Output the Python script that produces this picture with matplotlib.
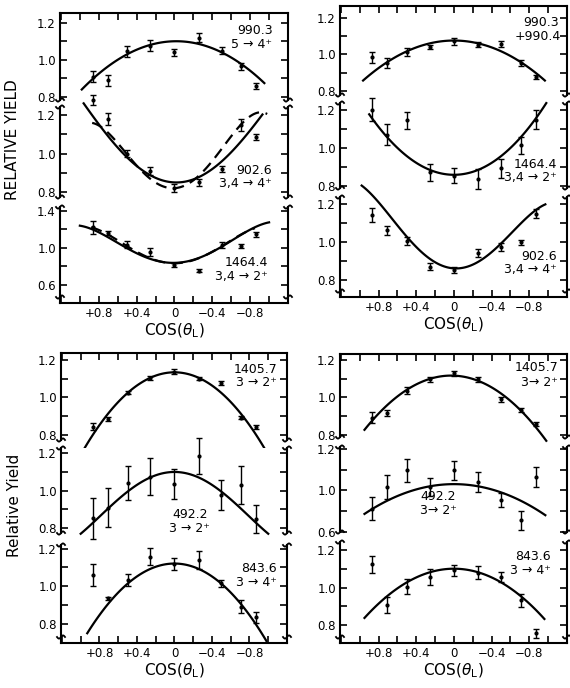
import matplotlib.pyplot as plt
import numpy as np
from matplotlib.lines import Line2D
from numpy.polynomial import polynomial as P

W, H = 570, 688

# detector angles 30..150 deg, as cos(theta_L)
COS_THETA = [0.866, 0.707, 0.5, 0.259, 0.0, -0.259, -0.5, -0.707, -0.866]

# ---- top left: 990.3 / 902.6 / 1464.4 ----
TL1_Y = [0.91, 0.89, 1.045, 1.075, 1.04, 1.12, 1.05, 0.965, 0.86]
TL1_ERR = [0.03, 0.03, 0.03, 0.03, 0.02, 0.025, 0.02, 0.02, 0.015]
TL1_FIT = [1.10, -0.01, -0.26]
TL1_SPAN = (0.98, -0.95)

TL2_Y = [1.28, 1.18, 1.0, 0.91, 0.82, 0.85, 0.92, 1.15, 1.085]
TL2_ERR = [0.025, 0.03, 0.02, 0.02, 0.02, 0.02, 0.015, 0.03, 0.015]
TL2_FIT = [0.85, 0.02, 0.50, 0.0, -0.08]
TL2_SPAN = (0.96, -0.93)
TL2_FIT_DASH = [0.82, -0.03, 0.9, 0.0, -0.55]
TL2_SPAN_DASH = (0.87, -0.98)

TL3_Y = [1.22, 1.157, 1.03, 0.953, 0.81, 0.75, 1.025, 1.014, 1.143]
TL3_ERR = [0.07, 0.02, 0.04, 0.04, 0.02, 0.02, 0.03, 0.02, 0.03]
TL3_FIT = [0.834, -0.018, 0.75, 0.0, -0.33]
TL3_SPAN = (1.0, -1.0)
TL3_FIT_DASH = [0.83, 0.0, 0.85, 0.0, -0.45]
TL3_SPAN_DASH = (0.88, -0.85)

# ---- top right: 990.3+990.4 / 1464.4 / 902.6 ----
TR1_Y = [0.985, 0.953, 1.013, 1.04, 1.072, 1.054, 1.058, 0.953, 0.877]
TR1_ERR = [0.03, 0.025, 0.02, 0.01, 0.02, 0.015, 0.015, 0.015, 0.012]
TR1_FIT = [1.076, 0.0, -0.235]
TR1_SPAN = (0.965, -0.965)

TR2_Y = [1.2, 1.07, 1.144, 0.873, 0.855, 0.838, 0.895, 1.014, 1.148]
TR2_ERR = [0.06, 0.055, 0.045, 0.045, 0.04, 0.05, 0.05, 0.045, 0.05]
TR2_FIT = [0.86, 0.0, 0.39]
TR2_SPAN = (0.9, -0.98)

TR3_Y = [1.14, 1.06, 1.005, 0.87, 0.852, 0.94, 0.974, 0.997, 1.148]
TR3_ERR = [0.035, 0.025, 0.02, 0.02, 0.015, 0.02, 0.02, 0.015, 0.025]
TR3_FIT = [0.861, 0.03, 0.659, 0.02, -0.268]
TR3_SPAN = (0.98, -0.97)

# ---- bottom left: 1405.7 / 492.2 / 843.6 ----
BL1_Y = [0.844, 0.883, 1.025, 1.101, 1.137, 1.10, 1.075, 0.892, 0.84]
BL1_ERR = [0.02, 0.01, 0.01, 0.01, 0.012, 0.01, 0.01, 0.01, 0.01]
BL1_FIT = [1.133, 0.0, -0.44]
BL1_SPAN = (0.98, -0.96)

BL2_Y = [0.852, 0.91, 1.04, 1.075, 1.036, 1.185, 0.977, 1.03, 0.85]
BL2_ERR = [0.11, 0.105, 0.09, 0.10, 0.08, 0.095, 0.08, 0.10, 0.075]
BL2_FIT = [1.10, 0.0, -0.45, 0.0, 0.12]
BL2_SPAN = (1.0, -1.0)

BL3_Y = [1.06, 0.934, 1.032, 1.156, 1.117, 1.139, 1.014, 0.89, 0.833]
BL3_ERR = [0.06, 0.01, 0.03, 0.045, 0.03, 0.05, 0.02, 0.035, 0.03]
BL3_FIT = [1.12, 0.0, -0.43]
BL3_SPAN = (0.93, -0.98)

# ---- bottom right: 1405.7 / 492.2 / 843.6 ----
BR1_Y = [0.893, 0.918, 1.036, 1.096, 1.128, 1.096, 0.99, 0.932, 0.861]
BR1_ERR = [0.03, 0.015, 0.02, 0.015, 0.015, 0.015, 0.015, 0.01, 0.01]
BR1_FIT = [1.116, 0.02, -0.34]
BR1_SPAN = (0.95, -0.98)

BR2_Y = [0.911, 1.016, 1.097, 1.016, 1.097, 1.04, 0.952, 0.855, 1.065]
BR2_ERR = [0.055, 0.06, 0.055, 0.045, 0.045, 0.05, 0.035, 0.045, 0.05]
BR2_FIT = [1.03, 0.0, -0.16]
BR2_SPAN = (0.95, -0.97)

BR3_Y = [1.123, 0.907, 1.004, 1.056, 1.092, 1.078, 1.056, 0.933, 0.757]
BR3_ERR = [0.045, 0.045, 0.04, 0.04, 0.03, 0.035, 0.025, 0.035, 0.025]
BR3_FIT = [1.10, 0.0, -0.29]
BR3_SPAN = (0.95, -0.96)

X_TICKS = [1.2, 1.0, 0.8, 0.6, 0.4, 0.2, 0.0, -0.2, -0.4, -0.6, -0.8, -1.0, -1.2]
X_LABELS = ['', '', '+0.8', '', '+0.4', '', '0', '', '\u22120.4', '', '\u22120.8', '', '']

plt.rcParams['font.family'] = 'DejaVu Sans'
fig = plt.figure(figsize=(W / 100, H / 100), dpi=100)
fig.patch.set_facecolor('white')

LW = 1.5


def squiggle(x, y):
    t = np.linspace(0, 2 * np.pi, 24)
    xs = x - 4 + 8 * t / (2 * np.pi)
    ys = y + 1.6 * np.sin(t)
    fig.add_artist(Line2D(xs / W, 1 - ys / H, transform=fig.transFigure,
                          color='k', lw=1.3))


def make_ax(left, right, top, bottom, ylim, pos):
    ax = fig.add_axes([left / W, 1 - bottom / H, (right - left) / W, (bottom - top) / H])
    ax.set_xlim(1.21, -1.18)
    ax.set_ylim(*ylim)
    for s in ax.spines.values():
        s.set_linewidth(LW)
    ax.spines['top'].set_visible(pos == 0)
    ax.spines['bottom'].set_visible(pos == 2)
    ax.set_xticks(X_TICKS)
    ax.set_xticklabels(X_LABELS)
    ax.tick_params(axis='both', which='both', direction='in', length=5, width=1.2,
                   labelsize=8.5, right=True, pad=3)
    ax.tick_params(axis='x', top=(pos == 0), bottom=(pos == 2), labelbottom=(pos == 2))
    return ax


def plot_set(ax, y, err, fit, span, fit_dash=None, span_dash=None):
    ax.errorbar(COS_THETA, y, yerr=err, fmt='o', ms=2.0, color='k', ecolor='k',
                elinewidth=1.0, capsize=2.0, capthick=1.0, clip_on=False, zorder=3)
    xs = np.linspace(span[0], span[1], 120)
    ax.plot(xs, P.polyval(xs, fit), color='k', lw=1.6, clip_on=False)
    if fit_dash is not None:
        xd = np.linspace(span_dash[0], span_dash[1], 120)
        ax.plot(xd, P.polyval(xd, fit_dash), color='k', lw=1.6, dashes=(5, 3), clip_on=False)


panels = [
    dict(left=60, right=288, rows=[(13, 100), (107, 197), (207, 303)],
         ylims=[(0.784, 1.252), (0.774, 1.243), (0.40, 1.438)],
         sets=[(TL1_Y, TL1_ERR, TL1_FIT, TL1_SPAN),
               (TL2_Y, TL2_ERR, TL2_FIT, TL2_SPAN, TL2_FIT_DASH, TL2_SPAN_DASH),
               (TL3_Y, TL3_ERR, TL3_FIT, TL3_SPAN, TL3_FIT_DASH, TL3_SPAN_DASH)],
         yticks=[([0.8, 0.9, 1.0, 1.1, 1.2], ['0.8', '', '1.0', '', '1.2']),
                 ([0.8, 0.9, 1.0, 1.1, 1.2], ['0.8', '', '1.0', '', '1.2']),
                 ([0.6, 0.8, 1.0, 1.2, 1.4], ['0.6', '', '1.0', '', '1.4'])],
         notes=[(273, 31, '990.3', 'right'), (272, 45, '5 \u2192 4\u207a', 'right'),
                (272, 171, '902.6', 'right'), (272, 184, '3,4 \u2192 4\u207a', 'right'),
                (268, 263, '1464.4', 'right'), (268, 276, '3,4 \u2192 2\u207a', 'right')]),
    dict(left=340, right=567, rows=[(6, 95), (103, 188), (197, 297)],
         ylims=[(0.778, 1.265), (0.791, 1.235), (0.711, 1.235)],
         sets=[(TR1_Y, TR1_ERR, TR1_FIT, TR1_SPAN),
               (TR2_Y, TR2_ERR, TR2_FIT, TR2_SPAN),
               (TR3_Y, TR3_ERR, TR3_FIT, TR3_SPAN)],
         yticks=[([0.8, 0.9, 1.0, 1.1, 1.2], ['0.8', '', '1.0', '', '1.2'])] * 3,
         notes=[(559, 23, '990.3', 'right'), (561, 37, '+990.4', 'right'),
                (557, 165, '1464.4', 'right'), (557, 178, '3,4 \u2192 2\u207a', 'right'),
                (557, 257, '902.6', 'right'), (557, 270, '3,4 \u2192 4\u207a', 'right')]),
    dict(left=61, right=287, rows=[(353, 440), (448, 533), (545, 643)],
         ylims=[(0.772, 1.236), (0.774, 1.228), (0.696, 1.219)],
         sets=[(BL1_Y, BL1_ERR, BL1_FIT, BL1_SPAN),
               (BL2_Y, BL2_ERR, BL2_FIT, BL2_SPAN),
               (BL3_Y, BL3_ERR, BL3_FIT, BL3_SPAN)],
         yticks=[([0.8, 0.9, 1.0, 1.1, 1.2], ['0.8', '', '1.0', '', '1.2'])] * 3,
         notes=[(277, 370, '1405.7', 'right'), (277, 383, '3 \u2192 2\u207a', 'right'),
                (208, 514, '492.2', 'right'), (210, 528, '3 \u2192 2\u207a', 'right'),
                (277, 568, '843.6', 'right'), (277, 582, '3 \u2192 4\u207a', 'right')]),
    dict(left=340, right=567, rows=[(354, 437), (447, 532), (542, 643)],
         ylims=[(0.79, 1.231), (0.798, 1.21), (0.705, 1.242)],
         sets=[(BR1_Y, BR1_ERR, BR1_FIT, BR1_SPAN),
               (BR2_Y, BR2_ERR, BR2_FIT, BR2_SPAN),
               (BR3_Y, BR3_ERR, BR3_FIT, BR3_SPAN)],
         yticks=[([0.8, 0.9, 1.0, 1.1, 1.2], ['0.8', '', '1.0', '', '1.2']),
                 ([0.8, 0.9, 1.0, 1.1, 1.2], ['0.6', '', '1.0', '', '1.2']),
                 ([0.8, 0.9, 1.0, 1.1, 1.2], ['0.8', '', '1.0', '', '1.2'])],
         notes=[(558, 368, '1405.7', 'right'), (558, 382, '3\u2192 2\u207a', 'right'),
                (420, 497, '492.2', 'left'), (420, 510, '3\u2192 2\u207a', 'left'),
                (551, 557, '843.6', 'right'), (551, 570, '3 \u2192 4\u207a', 'right')]),
]

for p in panels:
    for i, ((top, bottom), ylim, s, yt) in enumerate(zip(p['rows'], p['ylims'], p['sets'], p['yticks'])):
        ax = make_ax(p['left'], p['right'], top, bottom, ylim, i)
        ax.set_yticks(yt[0])
        ax.set_yticklabels(yt[1])
        plot_set(ax, *s)
        if i == 2:
            ax.set_xlabel(r'COS($\theta_{\rm L}$)', fontsize=11, labelpad=1)
    # break marks on both spines
    for (t0, b0), (t1, b1) in zip(p['rows'][:-1], p['rows'][1:]):
        for xs in (p['left'], p['right']):
            squiggle(xs, b0)
            squiggle(xs, t1)
    for xs in (p['left'], p['right']):
        squiggle(xs, p['rows'][2][1] - 6)
    for x, y, txt, ha in p['notes']:
        fig.text(x / W, 1 - y / H, txt, ha=ha, va='center', fontsize=9)

fig.text(13 / W, 1 - 140 / H, 'RELATIVE YIELD', rotation=90, ha='center', va='center', fontsize=11)
fig.text(15 / W, 1 - 505 / H, 'Relative Yield', rotation=90, ha='center', va='center', fontsize=11)

fig.savefig('out.png', dpi=100)
